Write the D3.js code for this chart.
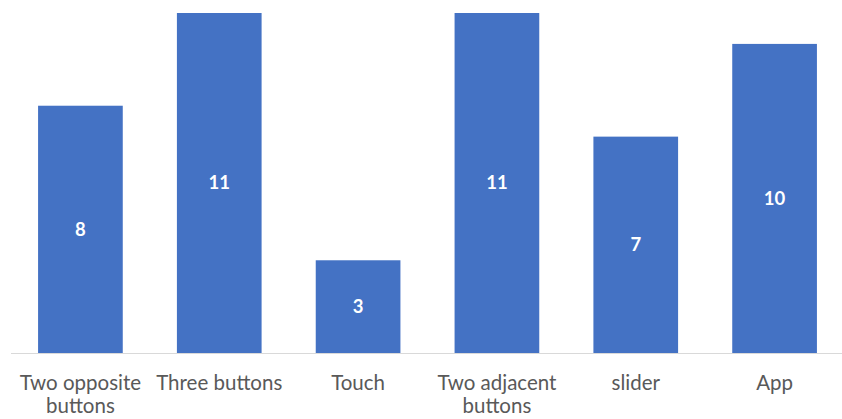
<!DOCTYPE html>
<html><head><meta charset="utf-8">
<script src="https://cdn.jsdelivr.net/npm/d3@7"></script>
<style>html,body{margin:0;padding:0;background:#fff;}</style>
</head><body>
<svg id="chart" width="842" height="419"></svg>
<script>
const categories = [["Two opposite","buttons"],["Three buttons"],["Touch"],["Two adjacent","buttons"],["slider"],["App"]];
const values = [8, 11, 3, 11, 7, 10];

const svg = d3.select("#chart");
const font = "Lato, 'Open Sans', sans-serif";
const x = d3.scaleBand().domain(d3.range(values.length)).range([11, 844]).paddingInner(0.39).paddingOuter(0.195);
const y = d3.scaleLinear().domain([0, 11]).range([353, 13]);

svg.selectAll("rect.bar").data(values).join("rect")
  .attr("class","bar")
  .attr("x",(d,i)=>x(i)).attr("width",x.bandwidth())
  .attr("y",d=>y(d)).attr("height",d=>y(0)-y(d))
  .attr("fill","#4472C4");

svg.append("line").attr("x1",11).attr("x2",842).attr("y1",y(0)+0.5).attr("y2",y(0)+0.5)
  .attr("stroke","#D9D9D9").attr("stroke-width",1.2);

svg.selectAll("text.val").data(values).join("text")
  .attr("class","val")
  .attr("x",(d,i)=>x(i)+x.bandwidth()/2)
  .attr("y",d=>(y(d)+y(0))/2)
  .attr("dy","0.35em")
  .attr("text-anchor","middle")
  .attr("fill","#fff").attr("font-weight","bold")
  .attr("font-family",font).attr("font-size",18.5)
  .text(d=>d);

const lab = svg.selectAll("text.cat").data(categories).join("text")
  .attr("class","cat")
  .attr("text-anchor","middle")
  .attr("fill","#595959")
  .attr("font-family",font).attr("font-size",20.5);
lab.each(function(d,i){
  const t = d3.select(this);
  d.forEach((line,j)=>{
    t.append("tspan").attr("x",x(i)+x.bandwidth()/2).attr("y",390+j*23).text(line);
  });
});
</script>
</body></html>
